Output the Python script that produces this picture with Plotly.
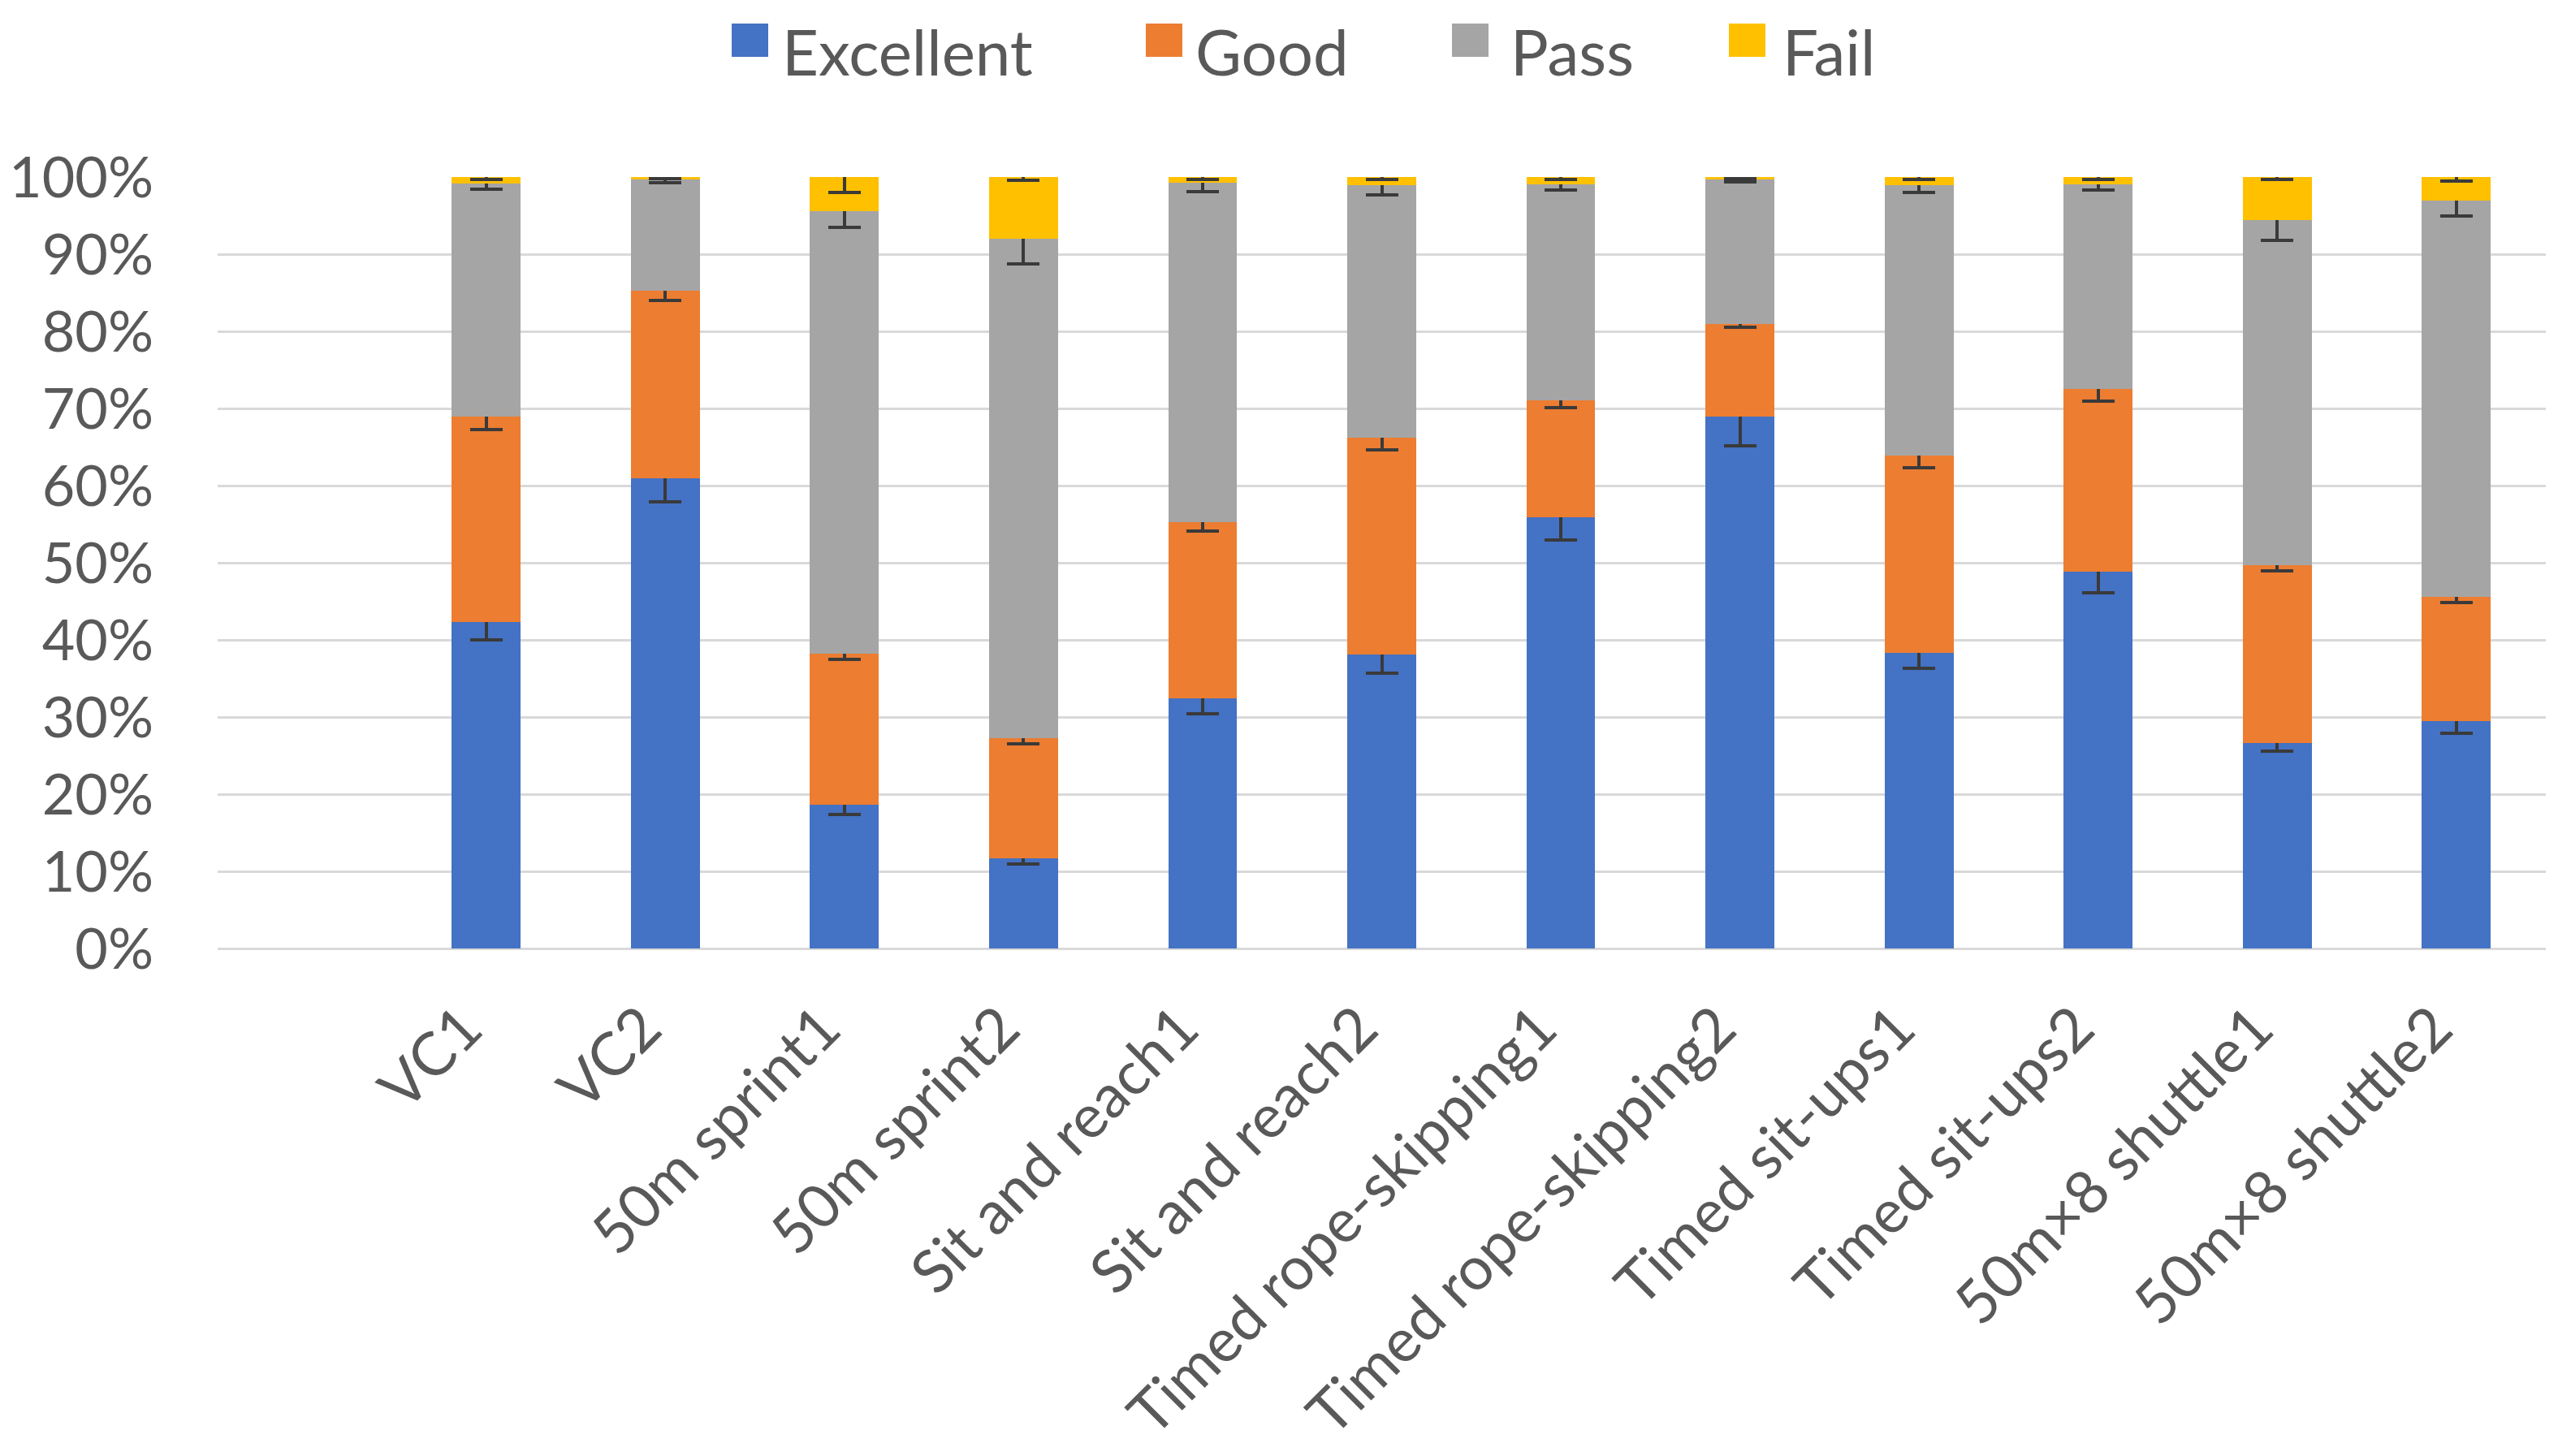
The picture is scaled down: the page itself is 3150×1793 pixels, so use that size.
import plotly.graph_objects as go

# physical fitness test grades, share of students per grade
categories = ["VC1", "VC2", "50m sprint1", "50m sprint2", "Sit and reach1", "Sit and reach2",
              "Timed rope-skipping1", "Timed rope-skipping2", "Timed sit-ups1", "Timed sit-ups2",
              "50m×8 shuttle1", "50m×8 shuttle2"]
series = ["Excellent", "Good", "Pass", "Fail"]
colors = ["#4472C4", "#ED7D31", "#A5A5A5", "#FFC000"]

excellent = [0.423, 0.609, 0.186, 0.117, 0.324, 0.381, 0.559, 0.689, 0.383, 0.488, 0.266, 0.295]
good = [0.267, 0.244, 0.196, 0.156, 0.229, 0.281, 0.152, 0.121, 0.256, 0.237, 0.231, 0.161]
pass_ = [0.302, 0.144, 0.574, 0.647, 0.440, 0.328, 0.280, 0.187, 0.351, 0.266, 0.447, 0.513]
fail = [0.008, 0.003, 0.044, 0.080, 0.007, 0.010, 0.009, 0.003, 0.010, 0.009, 0.056, 0.031]

excellent_err = [0.023, 0.030, 0.012, 0.008, 0.020, 0.024, 0.030, 0.037, 0.020, 0.027, 0.010, 0.016]
good_err = [0.017, 0.013, 0.007, 0.008, 0.012, 0.016, 0.010, 0.005, 0.016, 0.016, 0.007, 0.008]
pass_err = [0.008, 0.004, 0.021, 0.033, 0.012, 0.013, 0.008, 0.003, 0.010, 0.008, 0.026, 0.020]
fail_err = [0.003, 0.002, 0.020, 0.004, 0.003, 0.003, 0.003, 0.002, 0.003, 0.003, 0.003, 0.005]

values = [excellent, good, pass_, fail]
errors = [excellent_err, good_err, pass_err, fail_err]

W, H = 3150, 1793
ml, mr, mt, mb = 260, 23, 210, 633
pw, ph = W - ml - mr, H - mt - mb
FONT = "Lato"
TXT = "#595959"

fig = go.Figure()
for name, col, v, e in zip(series, colors, values, errors):
    fig.add_trace(go.Bar(
        x=categories, y=v, name=name, marker=dict(color=col, line=dict(width=0)),
        error_y=dict(type="data", array=e, visible=True, color="#3A3A3A", thickness=4, width=20),
        showlegend=False,
    ))

# legend drawn by hand so the swatches can match the big squares of the original
legend_sq_x = [893, 1403, 1780, 2121]
legend_txt_x = [953, 1462, 1850, 2185]

def px_x(p):
    return (p - ml) / pw

def px_y(p):
    return (H - mb - p) / ph

for name, col, sx, tx in zip(series, colors, legend_sq_x, legend_txt_x):
    fig.add_shape(type="rect", xref="paper", yref="paper",
                  x0=px_x(sx), x1=px_x(sx + 45), y0=px_y(62), y1=px_y(21),
                  fillcolor=col, line=dict(width=0))
    fig.add_annotation(xref="paper", yref="paper", x=px_x(tx), y=px_y(55),
                       text=name, showarrow=False, xanchor="left", yanchor="middle",
                       font=dict(family=FONT, size=78, color=TXT))

# trailing no-break spaces pull the slanted labels back under their bars
tick_text = [c + "\u00a0\u00a0" for c in categories]

fig.update_layout(
    width=W, height=H,
    margin=dict(l=ml, r=mr, t=mt, b=mb),
    barmode="stack", bargap=0.615,
    plot_bgcolor="white", paper_bgcolor="white",
    font=dict(family=FONT, color=TXT),
)
fig.update_xaxes(range=[-1.5, 11.5], tickangle=-45, tickfont=dict(size=74, color=TXT),
                 tickmode="array", tickvals=categories, ticktext=tick_text,
                 showgrid=False, showline=False, ticks="", ticklabelstandoff=12,
                 automargin=False)
fig.update_yaxes(range=[0, 1], dtick=0.1, tickformat=".0%", tickfont=dict(size=70, color=TXT),
                 showgrid=True, gridcolor="#D9D9D9", gridwidth=3, zeroline=True,
                 zerolinecolor="#D9D9D9", zerolinewidth=3, ticks="", ticklabelstandoff=78,
                 automargin=False)

fig.write_html("out.html")
